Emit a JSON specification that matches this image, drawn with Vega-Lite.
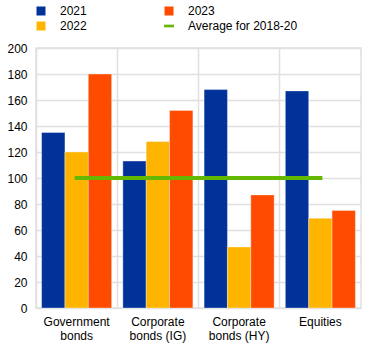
{
  "$schema": "https://vega.github.io/schema/vega-lite/v6.json",
  "width": 325,
  "height": 260,
  "autosize": "none",
  "padding": {"left": 36, "top": 48, "right": 11, "bottom": 43},
  "config": {
    "font": "Liberation Sans",
    "view": {"stroke": "#e0e0e0", "strokeWidth": 1.5},
    "axis": {"labelFont": "Liberation Sans", "labelFontSize": 12, "labelColor": "#000000", "gridColor": "#e0e0e0", "gridWidth": 1.5}
  },
  "datasets": {
    "bars": [
      {"category": "Government|bonds", "series": "2021", "value": 135},
      {"category": "Government|bonds", "series": "2022", "value": 120},
      {"category": "Government|bonds", "series": "2023", "value": 180},
      {"category": "Corporate|bonds (IG)", "series": "2021", "value": 113},
      {"category": "Corporate|bonds (IG)", "series": "2022", "value": 128},
      {"category": "Corporate|bonds (IG)", "series": "2023", "value": 152},
      {"category": "Corporate|bonds (HY)", "series": "2021", "value": 168},
      {"category": "Corporate|bonds (HY)", "series": "2022", "value": 47},
      {"category": "Corporate|bonds (HY)", "series": "2023", "value": 87},
      {"category": "Equities", "series": "2021", "value": 167},
      {"category": "Equities", "series": "2022", "value": 69},
      {"category": "Equities", "series": "2023", "value": 75}
    ],
    "avg": [
      {"category": "Government|bonds", "series": "Average for 2018-20", "value": 100},
      {"category": "Corporate|bonds (IG)", "series": "Average for 2018-20", "value": 100},
      {"category": "Corporate|bonds (HY)", "series": "Average for 2018-20", "value": 100},
      {"category": "Equities", "series": "Average for 2018-20", "value": 100}
    ]
  },
  "encoding": {
    "x": {
      "field": "category", "type": "nominal", "sort": null,
      "scale": {"paddingInner": 0, "paddingOuter": 0},
      "axis": {"title": null, "labelAngle": 0, "labelExpr": "split(datum.label, '|')", "ticks": false, "domain": false, "grid": true, "labelPadding": 8, "labelLineHeight": 14, "bandPosition": 0}
    },
    "y": {
      "field": "value", "type": "quantitative",
      "scale": {"domain": [0, 200], "nice": false},
      "axis": {"title": null, "values": [0,20,40,60,80,100,120,140,160,180,200], "labelOverlap": false, "ticks": false, "domain": false, "labelPadding": 9}
    },
    "color": {
      "field": "series", "type": "nominal",
      "scale": {"domain": ["2021", "2022", "2023", "Average for 2018-20"], "range": ["#003299", "#FFB400", "#FF4B00", "#65B800"]},
      "legend": {
        "title": null, "orient": "none", "legendX": -1, "legendY": -43,
        "columns": 2, "columnPadding": 76, "rowPadding": 3,
        "symbolSize": 81, "symbolType": "square", "symbolStrokeWidth": 0,
        "labelFontSize": 12, "labelOffset": 13, "labelColor": "#000000",
        "encode": {"symbols": {"update": {"shape": {"signal": "datum.value == 'Average for 2018-20' ? 'M-1.1,-0.3L1.1,-0.3L1.1,0.3L-1.1,0.3Z' : 'square'"}, "opacity": {"value": 1}}}}
      }
    }
  },
  "layer": [
    {
      "data": {"name": "bars"},
      "mark": {"type": "bar", "stroke": "#ffffff", "strokeOpacity": 0.35, "strokeWidth": 1},
      "encoding": {
        "xOffset": {"field": "series", "type": "nominal", "sort": ["2021", "2022", "2023"], "scale": {"paddingInner": 0, "paddingOuter": 0.24}}
      }
    },
    {
      "data": {"name": "avg"},
      "mark": {"type": "line", "strokeWidth": 4, "strokeCap": "square"},
      "encoding": {}
    }
  ]
}
